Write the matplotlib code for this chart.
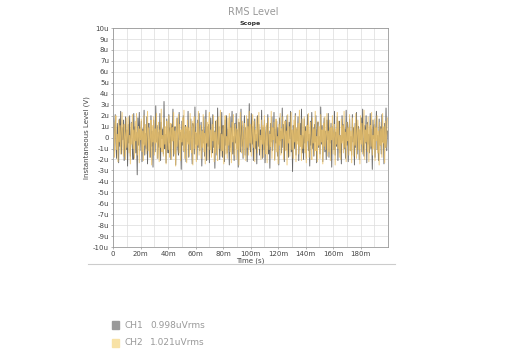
import numpy as np
import matplotlib
matplotlib.use("Agg")
import matplotlib.pyplot as plt
from matplotlib.patches import Rectangle
from matplotlib.lines import Line2D

# sampled levels in uV, one sample every 0.5 ms
ch1_uv = [
    1.8, -1.2, 0.6, 2.1, -0.4, -1.9, 1.3, 0.2, -2.3, 1.7,
    -0.8, 2.4, -1.5, 0.9, -0.2, 1.6, -2.1, 0.4, 1.9, -1.1,
    0.7, -2.6, 1.2, -0.5, 2.0, -1.7, 0.3, 1.4, -0.9, -2.0,
    2.2, -0.3, 1.0, -1.4, 0.5, -3.4, 1.8, -0.7, 2.3, -1.2,
    0.1, 1.5, -2.2, 0.8, -0.6, 2.5, -1.6, 0.4, -1.0, 1.9,
    -2.4, 0.9, 1.3, -0.2, -1.8, 2.0, -0.8, 0.6, -2.7, 1.6,
    0.2, -1.3, 2.9, -0.4, 1.1, -1.9, 0.5, -0.9, 2.2, -2.1,
    1.4, -0.1, 0.8, -1.5, 3.3, -1.0, 0.3, -2.3, 1.7, -0.6,
    -1.4, 2.1, -0.5, 0.9, -2.0, 1.2, -0.3, 2.6, -1.7, 0.4,
    1.0, -2.5, 0.7, 1.8, -0.9, -1.6, 2.3, -0.2, 0.5, -2.9,
    1.5, -0.7, 2.0, -1.3, 0.2, 1.1, -2.2, 0.8, -0.4, 2.4,
    -1.8, 0.6, -1.1, 1.7, -0.3, -2.4, 1.3, 0.9, -1.5, 2.8,
    -0.6, 0.4, -2.0, 1.6, -0.9, 2.2, -1.2, 0.1, 1.4, -2.6,
    0.7, -0.5, 1.9, -1.7, 0.3, 2.5, -2.1, 1.0, -0.8, 1.2,
    -2.3, 0.5, 1.8, -0.4, -1.4, 2.1, -0.9, 0.6, -2.8, 1.5,
    0.2, -1.6, 2.7, -0.6, 1.0, -2.0, 0.4, -1.2, 2.3, -1.8,
    1.1, 0.3, -2.2, 1.6, -0.7, 2.0, -1.4, 0.8, -0.2, -2.5,
    1.9, -0.9, 0.5, 2.4, -1.5, 0.1, -2.1, 1.3, -0.5, 2.2,
    -1.0, 0.7, -2.7, 1.4, 0.2, -1.3, 2.6, -0.8, 1.1, -1.9,
    0.4, 2.0, -1.6, 0.9, -0.3, -2.2, 1.7, -1.1, 3.1, -0.7,
    -1.3, 2.2, -0.6, 1.0, -2.1, 0.5, 1.7, -1.0, 0.3, -2.4,
    2.0, -0.8, 1.2, -1.6, 0.7, -0.2, 2.5, -1.9, 0.9, -1.1,
    1.6, -2.3, 0.4, 1.1, -0.7, 2.1, -1.5, 0.6, -2.8, 1.3,
    -0.4, 1.9, -1.2, 0.2, 2.3, -2.0, 0.8, -0.5, 1.5, -1.7,
    0.9, -2.5, 1.8, -0.3, 0.6, -1.4, 2.7, -0.9, 1.2, -2.2,
    0.3, 1.6, -1.1, 2.0, -0.6, -1.8, 1.4, -0.1, 2.4, -1.3,
    0.7, -3.1, 1.1, 0.4, -1.0, 2.2, -1.6, 0.8, -0.3, 1.9,
    -2.1, 0.5, 1.3, -0.8, 2.6, -1.4, 0.2, -2.0, 1.7, -0.5,
    1.0, -1.9, 0.6, 2.1, -1.2, 0.3, -2.6, 1.5, -0.7, 2.3,
    -1.0, 0.9, -1.7, 1.2, -0.4, 2.0, -2.3, 0.7, 1.4, -0.9,
    0.1, -1.5, 2.8, -0.6, 1.1, -2.2, 0.4, 1.8, -1.3, 0.6,
    -2.0, 1.6, -0.2, 2.2, -1.8, 0.9, -0.5, 1.3, -2.7, 1.0,
    0.3, -1.1, 2.4, -1.6, 0.5, -0.8, 1.9, -2.1, 0.7, 1.5,
    -1.4, 0.2, -2.4, 2.0, -0.3, 1.2, -1.0, 0.8, -1.9, 2.5,
    -0.7, 1.4, -2.2, 0.6, 1.7, -1.2, 0.1, -1.6, 2.1, -0.4,
    0.9, -2.5, 1.3, -0.9, 2.3, -1.5, 0.4, 1.0, -2.0, 0.7,
    -0.2, 1.8, -1.3, 2.6, -0.8, -1.7, 1.1, -0.5, 2.0, -2.3,
    1.4, -0.6, 0.3, -1.4, 2.2, -1.0, 0.8, -2.9, 1.6, -0.1,
    1.2, -1.8, 0.5, 2.4, -1.1, 0.2, -2.1, 1.7, -0.7, 1.0,
    -1.5, 2.1, -0.4, 0.9, -2.4, 1.3, -0.9, 2.7, -1.2, 0.6,
]
ch2_uv = [
    -0.5, 1.4, -1.8, 0.9, 2.0, -1.1, 0.3, -2.2, 1.6, -0.4,
    1.1, -1.5, 0.6, 2.3, -0.8, -1.7, 1.2, 0.1, -2.0, 1.8,
    -0.9, 0.5, 1.9, -1.4, 0.2, -2.4, 1.3, -0.6, 2.1, -1.0,
    0.7, -1.9, 1.5, -0.3, 2.2, -1.6, 0.4, 1.0, -2.3, 0.8,
    -0.2, 1.7, -1.3, 0.6, -2.1, 2.0, -0.7, 1.2, -1.5, 0.3,
    2.4, -1.2, 0.9, -1.8, 0.1, 1.6, -2.5, 1.1, -0.4, 1.9,
    -1.6, 0.8, -0.5, 2.2, -1.9, 0.4, 1.4, -2.2, 0.7, -0.9,
    2.6, -1.3, 0.2, -1.7, 1.8, -0.6, 1.0, -2.4, 1.5, 0.3,
    -1.1, 2.0, -1.8, 0.5, 1.3, -2.0, 0.9, -0.3, 2.3, -1.5,
    0.6, -2.6, 1.7, -0.8, 0.4, 2.1, -1.4, 1.2, -2.1, 0.7,
    -0.4, 1.8, -1.2, 2.5, -1.9, 0.3, 1.0, -2.3, 1.6, -0.6,
    0.9, -1.7, 2.2, -0.2, -1.4, 1.5, -2.5, 0.8, 1.9, -1.0,
    0.5, -2.2, 1.3, -0.7, 2.4, -1.6, 0.2, 1.1, -1.9, 0.6,
    -0.9, 2.1, -1.3, 0.4, -2.4, 1.7, -0.5, 1.4, -2.0, 1.0,
    2.3, -1.1, 0.7, -1.8, 1.2, -0.3, 2.0, -2.2, 0.5, -1.4,
    1.6, -0.6, -2.1, 1.9, -1.0, 0.8, 2.5, -1.7, 0.3, -1.2,
    1.1, -2.4, 0.6, 2.0, -1.5, 0.1, -1.9, 1.8, -0.7, 2.2,
    -1.3, 0.9, -2.3, 1.4, -0.4, 2.1, -1.6, 0.5, 1.2, -2.0,
    0.8, -1.1, 1.7, -2.5, 0.4, 2.3, -0.8, -1.4, 1.5, -0.2,
    -1.8, 1.3, 0.6, -2.1, 2.0, -0.9, 1.0, -1.6, 2.4, -0.5,
    1.2, -1.7, 0.4, 2.1, -0.9, 1.5, -2.2, 0.7, -0.3, 1.9,
    -1.4, 0.8, 2.3, -1.0, 0.2, -2.0, 1.6, -0.6, 1.1, -1.8,
    2.0, -0.4, -1.5, 1.3, -2.3, 0.6, 1.8, -1.1, 0.3, -0.8,
    2.4, -1.9, 0.9, -0.2, 1.4, -2.1, 0.5, 1.7, -1.3, 0.1,
    -2.4, 1.2, -0.7, 2.2, -1.6, 0.8, -0.1, 1.9, -2.0, 0.4,
    1.5, -1.2, 0.6, -2.5, 2.1, -0.5, 1.0, -1.7, 0.3, 2.3,
    -1.1, 0.7, -1.9, 1.6, -0.4, 2.0, -2.2, 0.9, -0.6, 1.3,
    -1.5, 2.5, -0.8, 0.2, -2.1, 1.7, -1.0, 0.5, 1.9, -1.4,
    0.6, -2.3, 1.1, -0.3, 2.2, -1.8, 0.4, 1.4, -0.9, -2.0,
    1.8, -0.5, 0.8, -1.6, 2.4, -1.2, 0.1, -2.2, 1.5, -0.7,
    1.0, -1.9, 2.1, -0.4, 0.7, -2.4, 1.3, -0.8, 1.9, -1.1,
    0.3, 2.2, -1.7, 0.6, -1.3, 1.6, -2.1, 0.9, -0.2, 2.0,
    -1.5, 0.4, 1.2, -2.5, 0.8, -0.6, 2.3, -1.0, 1.5, -1.8,
    0.2, -2.0, 1.7, -0.5, 1.1, -1.4, 2.4, -0.9, 0.5, -2.2,
    1.4, -0.3, 0.9, -1.6, 2.1, -1.2, 0.6, -2.3, 1.8, -0.1,
    -1.7, 1.0, -0.7, 2.2, -1.9, 0.3, 1.6, -1.1, 0.8, -2.4,
    2.0, -0.6, 1.3, -1.5, 0.4, 2.5, -2.0, 0.7, -0.4, 1.2,
    -1.3, 1.9, -2.2, 0.5, 1.1, -0.8, 2.3, -1.6, 0.2, -1.0,
    1.7, -2.1, 0.9, -0.3, 2.0, -1.4, 0.6, -2.5, 1.4, -0.7,
    0.8, -1.8, 2.2, -0.5, 1.0, -2.3, 1.5, -0.9, 0.3, 1.8,
]
sample_ms = 0.5
channels = ["CH1", "CH2"]
rms_labels = ["0.998uVrms", "1.021uVrms"]
y_ticks = list(range(-10, 11))
y_labels = ["0" if v == 0 else f"{v}u" for v in y_ticks]
x_ticks = list(range(0, 200, 20))
x_labels = ["0" if v == 0 else f"{v}m" for v in x_ticks]

line_colors = ["#666666", "#ecc26a"]
swatch_colors = ["#9a9a9a", "#f8e2a6"]
t_ms = np.arange(len(ch1_uv)) * sample_ms

fig = plt.figure(figsize=(5.12, 3.51), dpi=100)
ax = fig.add_axes([0.221, 0.296, 0.537, 0.624])

ax.plot(t_ms, ch1_uv, color=line_colors[0], lw=0.65)
ax.plot(t_ms, ch2_uv, color=line_colors[1], lw=0.7, alpha=0.85)

ax.set_xlim(0, 200)
ax.set_ylim(-10, 10)
ax.set_yticks(y_ticks)
ax.set_yticklabels(y_labels)
ax.set_xticks(x_ticks)
ax.set_xticklabels(x_labels)
ax.set_xticks(range(0, 201, 10), minor=True)
ax.grid(True, which="both", color="#dcdcdc", lw=0.5)
ax.set_axisbelow(True)
ax.tick_params(labelsize=5, length=1.5, width=0.5, pad=1.5,
               colors="#999999", labelcolor="#444444")
ax.tick_params(which="minor", length=0)
for s in ax.spines.values():
    s.set_color("#999999")
    s.set_linewidth(0.6)

ax.set_xlabel("Time (s)", fontsize=5, labelpad=0, color="#444444")
ax.set_ylabel("Instantaneous Level (V)", fontsize=5, labelpad=2, color="#444444")
ax.set_title("Scope", fontsize=4.5, fontweight="bold", pad=2, color="#333333")

fig.text(0.494, 0.966, "RMS Level", ha="center", va="center",
         fontsize=7, color="#999999")

fig.add_artist(Line2D([0.172, 0.772], [0.248, 0.248], color="#cccccc", lw=0.8))

for i, (name, rms) in enumerate(zip(channels, rms_labels)):
    y = 0.074 - i * 0.051
    fig.add_artist(Rectangle((0.219, y - 0.011), 0.013, 0.022,
                             color=swatch_colors[i],
                             transform=fig.transFigure))
    fig.text(0.244, y, name, va="center", fontsize=6.5, color="#999999")
    fig.text(0.293, y, rms, va="center", fontsize=6.5, color="#999999")

fig.savefig("out.png", dpi=100)
